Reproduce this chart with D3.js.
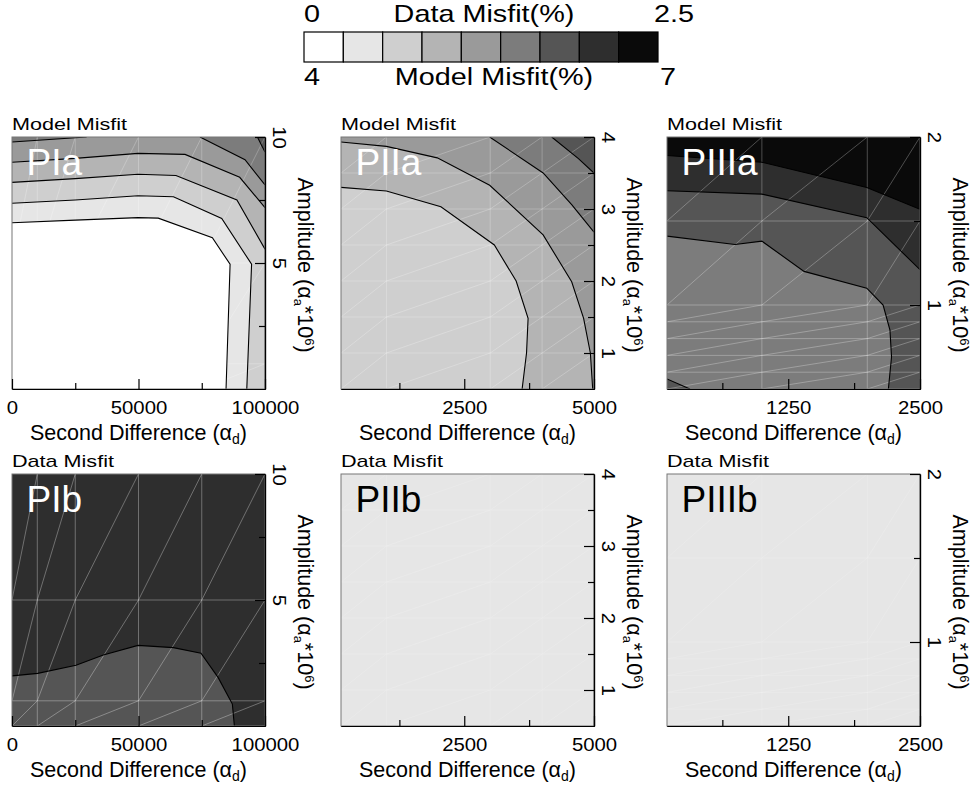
<!DOCTYPE html>
<html>
<head>
<meta charset="utf-8">
<script src="https://cdn.jsdelivr.net/npm/d3@7"></script>
<style>
  body { margin: 0; background: #fff; }
  text { font-family: "Liberation Sans", Arial, sans-serif; }
</style>
</head>
<body>
<svg id="chart"></svg>
<script>
const width = 974;
const height = 789;

// grey levels shared by both misfit scales (9 bins)
const levelColors = ["#ffffff", "#e6e6e6", "#cfcfcf", "#b4b4b4", "#9a9a9a", "#7c7c7c", "#555555", "#2e2e2e", "#0a0a0a"];
const dataMisfitEnds = ["0", "2.5"];
const modelMisfitEnds = ["4", "7"];

// axes of the three problems
const xDomainI = [0, 100000], yDomainI = [0, 10];
const xTicksI = [0, 25000, 50000, 75000, 100000], xLabelsI = [0, 50000, 100000];
const yTicksI = [2.5, 5, 7.5, 10], yLabelsI = [5, 10];

const xDomainII = [125, 5000], yDomainII = [0.5, 4];
const xTicksII = [1250, 2500, 3750, 5000], xLabelsII = [2500, 5000];
const yTicksII = [1, 1.5, 2, 2.5, 3, 3.5, 4], yLabelsII = [1, 2, 3, 4];

const xDomainIII = [100, 2500], yDomainIII = [0.5, 2];
const xTicksIII = [625, 1250, 1875, 2500], xLabelsIII = [1250, 2500];
const yTicksIII = [1, 1.5, 2], yLabelsIII = [1, 2];

// triangulation nodes (faint mesh)
const meshXI = [0, 10000, 25000, 50000, 75000, 100000], meshYI = [0, 1, 5, 10];
const meshXII = [125, 1000, 3000, 4000, 5000], meshYII = [0.5, 1, 1.5, 2, 2.5, 3, 3.5, 4];
const meshXIII = [100, 1000, 2000, 2500], meshYIII = [0.5, 0.6, 0.7, 0.8, 0.9, 1, 1.5, 2];

// contour lines, [alpha_d, alpha_a]; the band on the left of each line gets the level
const pIaBase = 0;
const pIaLevels = [1, 2, 3, 4, 5, 5, 6];
const pIaLines = [
  [[0, 6.6], [25000, 6.7], [49800, 6.8], [57800, 6.78], [79200, 6.0], [86200, 4.95], [84600, 0]],
  [[0, 7.37], [25000, 7.5], [49800, 7.67], [63800, 7.63], [82900, 6.77], [94700, 4.95], [92800, 0]],
  [[0, 8.2], [25000, 8.35], [49800, 8.52], [64800, 8.47], [88900, 7.5], [100000, 5.55]],
  [[0, 9.0], [25000, 9.15], [49800, 9.35], [68400, 9.31], [90000, 8.4], [100000, 7.2]],
  [[0, 9.8], [29500, 10]],
  [[74300, 10], [92100, 9.1], [100000, 8.1]],
  [[97000, 10], [100000, 9.4]]
];

const pIIaBase = 2;
const pIIaLevels = [3, 4, 5, 6];
const pIIaLines = [
  [[125, 3.30], [1000, 3.25], [2050, 3.03], [3080, 2.5], [3500, 2.0], [3730, 1.48], [3700, 1.0], [3615, 0.5]],
  [[125, 3.93], [1000, 3.87], [1980, 3.71], [2990, 3.33], [4020, 2.64], [4570, 1.99], [4800, 1.48], [4930, 1.0], [4975, 0.5]],
  [[2990, 4], [4020, 3.5], [4570, 3.06], [5000, 2.68]],
  [[4185, 4], [4700, 3.7], [5000, 3.5]]
];

const pIIIaBase = 5;
const pIIIaLevels = [6, 7, 8, 6];
const pIIIaLines = [
  [[100, 1.41], [745, 1.36], [1000, 1.38], [1400, 1.20], [1995, 1.10], [2150, 1.0], [2215, 0.85], [2230, 0.69], [2200, 0.5]],
  [[100, 1.68], [1000, 1.66], [1995, 1.52], [2500, 1.21]],
  [[100, 1.89], [1000, 1.85], [1995, 1.70], [2500, 1.57]],
  [[318, 0.5], [100, 0.56]]
];

const pIbBase = 7;
const pIbLevels = [6];
const pIbLines = [
  [[87900, 0], [87100, 0.87], [81500, 1.92], [74700, 2.89], [63800, 3.11], [49800, 3.2], [36100, 2.82], [25300, 2.41], [10150, 2.09], [0, 1.99]]
];

const pIIbBase = 1, pIIbLevels = [], pIIbLines = [];
const pIIIbBase = 1, pIIIbLevels = [], pIIIbLines = [];

const pw = 253, ph = 252;

const svg = d3.select("#chart")
              .attr("width", width)
              .attr("height", height);

const problems = {
  I:   {xDomain: xDomainI, yDomain: yDomainI, xTicks: xTicksI, xLabels: xLabelsI, yTicks: yTicksI, yLabels: yLabelsI, meshX: meshXI, meshY: meshYI},
  II:  {xDomain: xDomainII, yDomain: yDomainII, xTicks: xTicksII, xLabels: xLabelsII, yTicks: yTicksII, yLabels: yLabelsII, meshX: meshXII, meshY: meshYII},
  III: {xDomain: xDomainIII, yDomain: yDomainIII, xTicks: xTicksIII, xLabels: xLabelsIII, yTicks: yTicksIII, yLabels: yLabelsIII, meshX: meshXIII, meshY: meshYIII}
};

const panels = [
  {name: "PIa",   prob: "I",   left: 12,  top: 137, title: "Model Misfit", base: pIaBase,   levels: pIaLevels,   lines: pIaLines,   nameFill: "#fff", mesh: 0.3},
  {name: "PIIa",  prob: "II",  left: 341, top: 137, title: "Model Misfit", base: pIIaBase,  levels: pIIaLevels,  lines: pIIaLines,  nameFill: "#fff", mesh: 0.3},
  {name: "PIIIa", prob: "III", left: 667, top: 137, title: "Model Misfit", base: pIIIaBase, levels: pIIIaLevels, lines: pIIIaLines, nameFill: "#fff", mesh: 0.35},
  {name: "PIb",   prob: "I",   left: 12,  top: 474, title: "Data Misfit",  base: pIbBase,   levels: pIbLevels,   lines: pIbLines,   nameFill: "#fff", mesh: 0.4},
  {name: "PIIb",  prob: "II",  left: 341, top: 474, title: "Data Misfit",  base: pIIbBase,  levels: pIIbLevels,  lines: pIIbLines,  nameFill: "#000", mesh: 0.2},
  {name: "PIIIb", prob: "III", left: 667, top: 474, title: "Data Misfit",  base: pIIIbBase, levels: pIIIbLevels, lines: pIIIbLines, nameFill: "#000", mesh: 0.2}
];

// position of a boundary point along the frame, counter-clockwise from bottom-left
function edgePos(pt, xd, yd) {
  const e = 1e-9;
  if (Math.abs(pt[1] - yd[0]) < e) return (pt[0] - xd[0]) / (xd[1] - xd[0]);
  if (Math.abs(pt[0] - xd[1]) < e) return 1 + (pt[1] - yd[0]) / (yd[1] - yd[0]);
  if (Math.abs(pt[1] - yd[1]) < e) return 2 + (xd[1] - pt[0]) / (xd[1] - xd[0]);
  return 3 + (yd[1] - pt[1]) / (yd[1] - yd[0]);
}

function closeRing(pts, xd, yd) {
  const corners = [[xd[0], yd[0]], [xd[1], yd[0]], [xd[1], yd[1]], [xd[0], yd[1]]];
  const te = edgePos(pts[pts.length - 1], xd, yd);
  let ts = edgePos(pts[0], xd, yd);
  if (ts <= te) ts += 4;
  const ring = pts.slice();
  for (let k = Math.floor(te) + 1; k < ts; k++) ring.push(corners[k % 4]);
  return ring;
}

function meshSegments(mx, my) {
  const segs = [];
  for (let i = 1; i < mx.length - 1; i++) segs.push([[mx[i], my[0]], [mx[i], my[my.length - 1]]]);
  for (let j = 1; j < my.length - 1; j++) segs.push([[mx[0], my[j]], [mx[mx.length - 1], my[j]]]);
  for (let i = 0; i < mx.length - 1; i++)
    for (let j = 0; j < my.length - 1; j++) segs.push([[mx[i], my[j]], [mx[i + 1], my[j + 1]]]);
  return segs;
}

panels.forEach((p, pi) => {
  const pr = problems[p.prob];
  const x = d3.scaleLinear().domain(pr.xDomain).range([0, pw]);
  const y = d3.scaleLinear().domain(pr.yDomain).range([ph, 0]);
  const line = d3.line().x(d => x(d[0])).y(d => y(d[1]));

  const g = svg.append("g").attr("transform", `translate(${p.left},${p.top})`);

  g.append("clipPath").attr("id", "clip" + pi)
   .append("rect").attr("width", pw).attr("height", ph);

  const plot = g.append("g").attr("clip-path", `url(#clip${pi})`);

  plot.append("rect")
      .attr("width", pw)
      .attr("height", ph)
      .attr("fill", levelColors[p.base]);

  plot.selectAll(".band")
      .data(p.lines)
      .enter()
      .append("path")
      .attr("class", "band")
      .attr("d", d => line(closeRing(d, pr.xDomain, pr.yDomain)) + "Z")
      .attr("fill", (d, i) => levelColors[p.levels[i]]);

  plot.selectAll(".mesh")
      .data(meshSegments(pr.meshX, pr.meshY))
      .enter()
      .append("path")
      .attr("class", "mesh")
      .attr("d", line)
      .attr("fill", "none")
      .attr("stroke", "#fff")
      .attr("stroke-opacity", p.mesh)
      .attr("stroke-width", 0.8);

  plot.selectAll(".contour")
      .data(p.lines)
      .enter()
      .append("path")
      .attr("class", "contour")
      .attr("d", line)
      .attr("fill", "none")
      .attr("stroke", "#000")
      .attr("stroke-width", 1.1);

  // frame
  g.append("rect")
   .attr("width", pw)
   .attr("height", ph)
   .attr("fill", "none")
   .attr("stroke", "#777")
   .attr("stroke-width", 1);

  // x axis: minor then major ticks, pointing inward
  g.append("g")
   .attr("transform", `translate(0,${ph})`)
   .call(d3.axisBottom(x).tickValues(pr.xTicks.filter(v => !pr.xLabels.includes(v))).tickSize(-6).tickSizeOuter(0).tickFormat(""));

  const xAx = g.append("g")
   .attr("transform", `translate(0,${ph})`)
   .call(d3.axisBottom(x).tickValues(pr.xLabels).tickSize(-10).tickSizeOuter(0).tickFormat(d3.format("d")));
  xAx.selectAll("text")
     .attr("y", null).attr("dy", null)
     .attr("transform", "translate(0,25) scale(1.13,1)")
     .attr("font-size", 18)
     .attr("fill", "#000");

  // y axis on the right, labels turned a quarter clockwise
  g.append("g")
   .attr("transform", `translate(${pw},0)`)
   .call(d3.axisRight(y).tickValues(pr.yTicks.filter(v => !pr.yLabels.includes(v))).tickSize(-6).tickSizeOuter(0).tickFormat(""));

  const yAx = g.append("g")
   .attr("transform", `translate(${pw},0)`)
   .call(d3.axisRight(y).tickValues(pr.yLabels).tickSize(-10).tickSizeOuter(0).tickFormat(d3.format("d")));
  yAx.selectAll("text")
     .attr("x", null).attr("dy", null)
     .attr("text-anchor", "middle")
     .attr("transform", "translate(8,0) rotate(90) scale(1.13,1)")
     .attr("font-size", 18)
     .attr("fill", "#000");

  g.selectAll(".domain").attr("stroke", "#000").attr("stroke-width", 1.2);
  g.selectAll(".tick line").attr("stroke", "#000").attr("stroke-width", 1.2);

  // axis titles
  const xt = g.append("text")
   .attr("transform", `translate(${pw / 2},${ph + 51})`)
   .attr("text-anchor", "middle")
   .attr("font-size", 21.5);
  xt.append("tspan").text("Second Difference (");
  xt.append("tspan").text("\u03b1");
  xt.append("tspan").attr("font-size", 14).attr("dy", 4).text("d");
  xt.append("tspan").attr("dy", -4).text(")");

  const yt = g.append("text")
   .attr("transform", `translate(${pw + 33},${ph / 2 + 2}) rotate(90)`)
   .attr("text-anchor", "middle")
   .attr("font-size", 21.5);
  yt.append("tspan").text("Amplitude (");
  yt.append("tspan").text("\u03b1");
  yt.append("tspan").attr("font-size", 13).attr("dy", 4).text("a");
  yt.append("tspan").attr("dy", -4).text("*10");
  yt.append("tspan").attr("font-size", 13).attr("dy", -7).text("6");
  yt.append("tspan").attr("dy", 7).text(")");

  g.append("text")
   .attr("transform", "translate(0,-7) scale(1.27,1)")
   .attr("font-size", 17)
   .text(p.title);

  g.append("text")
   .attr("x", 14.5)
   .attr("y", 38)
   .attr("font-size", 37)
   .attr("fill", p.nameFill)
   .text(p.name);
});

// colour bar legend
const legendX = d3.scaleBand().domain(d3.range(levelColors.length)).range([304, 658]);
svg.selectAll(".cell")
   .data(levelColors)
   .enter()
   .append("rect")
   .attr("class", "cell")
   .attr("x", (d, i) => legendX(i))
   .attr("y", 32)
   .attr("width", legendX.bandwidth())
   .attr("height", 30)
   .attr("fill", d => d)
   .attr("stroke", "#000")
   .attr("stroke-width", 1.2);

const legendText = [
  {t: dataMisfitEnds[0], x: 304, y: 22, a: "start"},
  {t: "Data Misfit(%)", x: 484, y: 22, a: "middle"},
  {t: dataMisfitEnds[1], x: 654, y: 22, a: "start"},
  {t: modelMisfitEnds[0], x: 304, y: 85, a: "start"},
  {t: "Model Misfit(%)", x: 494, y: 85, a: "middle"},
  {t: modelMisfitEnds[1], x: 660, y: 85, a: "start"}
];
svg.selectAll(".ltext")
   .data(legendText)
   .enter()
   .append("text")
   .attr("class", "ltext")
   .attr("transform", d => `translate(${d.x},${d.y}) scale(1.2,1)`)
   .attr("text-anchor", d => d.a)
   .attr("font-size", 24)
   .text(d => d.t);
</script>
</body>
</html>
